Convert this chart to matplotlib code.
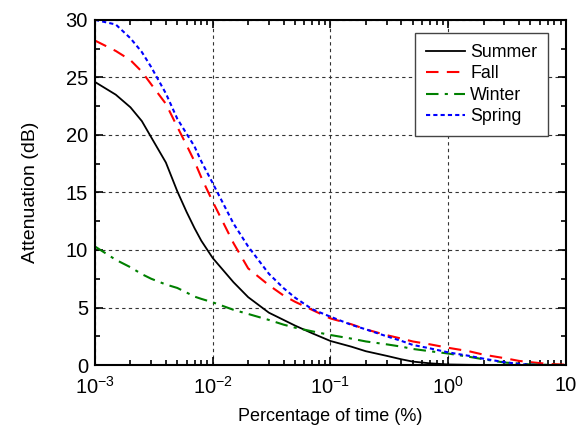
import numpy as np
import matplotlib.pyplot as plt
from matplotlib.ticker import FixedLocator, FixedFormatter, MultipleLocator, LogLocator

plt.rcParams['font.family'] = ['Liberation Sans', 'DejaVu Sans']
plt.rcParams['mathtext.default'] = 'regular'

# percentage of time (%)
pct = [0.001, 0.0015, 0.002, 0.0025, 0.003, 0.004, 0.005, 0.006, 0.007, 0.008,
       0.01, 0.015, 0.02, 0.03, 0.04, 0.05, 0.07, 0.1, 0.15, 0.2,
       0.3, 0.4, 0.5, 0.7, 1, 1.5, 2, 3, 4, 5, 7, 10]

# attenuation (dB) per season
summer = [24.6, 23.5, 22.4, 21.2, 19.8, 17.6, 15.1, 13.3, 11.9, 10.8,
          9.3, 7.2, 5.9, 4.55, 3.92, 3.43, 2.76, 2.09, 1.6, 1.2,
          0.8, 0.5, 0.3, 0.15, 0.05, 0.02, 0.01, 0, 0, 0, 0, 0]
fall = [28.2, 27.3, 26.5, 25.5, 24.4, 22.7, 20.7, 19.1, 17.7, 16.3,
        14.2, 10.6, 8.4, 6.94, 6.04, 5.5, 4.79, 4.05, 3.55, 3.1,
        2.6, 2.3, 2.05, 1.8, 1.5, 1.2, 0.9, 0.6, 0.36, 0.25, 0.1, 0.03]
winter = [10.3, 9.15, 8.5, 7.9, 7.5, 7.0, 6.7, 6.3, 5.95, 5.75,
          5.45, 4.8, 4.44, 3.92, 3.51, 3.25, 2.93, 2.61, 2.3, 2.05,
          1.8, 1.6, 1.4, 1.2, 1.0, 0.72, 0.5, 0.22, 0.12, 0.05, 0.02, 0]
spring = [30.0, 29.6, 28.4, 27.2, 25.9, 23.6, 21.4, 20.1, 19.0, 17.7,
          15.8, 12.3, 10.3, 7.93, 6.68, 5.86, 4.85, 4.2, 3.5, 3.1,
          2.5, 2.1, 1.75, 1.45, 1.1, 0.8, 0.55, 0.25, 0.1, 0.03, 0, 0]

xticks = [1e-3, 1e-2, 1e-1, 1, 10]
xlabels = ['$10^{-3}$', '$10^{-2}$', '$10^{-1}$', '$10^{0}$', '10']

fig = plt.figure(figsize=(5.84, 4.32), dpi=100)
ax = fig.add_axes([0.1627, 0.155, 0.8063, 0.799])

ax.plot(pct, summer, color='black', lw=1.3, ls='-', label='Summer')
ax.plot(pct, fall, color='red', lw=1.5, ls=(0, (6, 4)), label='Fall')
ax.plot(pct, winter, color='green', lw=1.5, ls=(0, (6, 3, 1.5, 3)), label='Winter')
ax.plot(pct, spring, color='blue', lw=1.5, ls=(0, (2, 1.5)), label='Spring')

ax.set_xscale('log')
ax.set_xlim(1e-3, 10)
ax.set_ylim(0, 30)
ax.xaxis.set_major_locator(FixedLocator(xticks))
ax.xaxis.set_major_formatter(FixedFormatter(xlabels))
ax.xaxis.set_minor_locator(LogLocator(base=10, subs=np.arange(2, 10)))
ax.yaxis.set_major_locator(MultipleLocator(5))
ax.yaxis.set_minor_locator(MultipleLocator(2.5))

ax.tick_params(which='both', direction='in', top=True, right=True, labelsize=14.5, width=1.2)
ax.tick_params(which='major', length=6)
ax.tick_params(which='minor', length=3.5)
ax.tick_params(axis='x', pad=8)
ax.tick_params(axis='y', pad=5)
for s in ax.spines.values():
    s.set_linewidth(1.5)

ax.grid(True, which='major', color='#333333', ls=(0, (3, 3)), lw=0.8)

ax.set_xlabel('Percentage of time (%)', fontsize=13, labelpad=7)
ax.set_ylabel('Attenuation (dB)', fontsize=14, labelpad=19)

leg = ax.legend(loc='upper right', bbox_to_anchor=(0.962, 0.961), borderaxespad=0,
                fontsize=12.8, fancybox=False, framealpha=1, edgecolor='#444444',
                handlelength=2.2, handletextpad=0.3, labelspacing=0.25, borderpad=0.6)
leg.get_frame().set_linewidth(1.0)

fig.savefig('out.png', dpi=100)
